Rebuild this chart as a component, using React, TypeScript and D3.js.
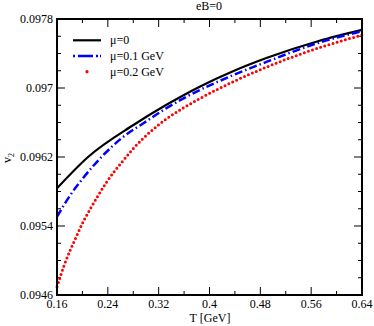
import React from 'react';
import * as d3 from 'd3';

// temperature [GeV] and v2, one pair of arrays per chemical potential
const tMu0 = [0.16, 0.2093, 0.2803, 0.3329, 0.3854, 0.4379, 0.4906, 0.5719, 0.64];
const v2Mu0 = [0.095837, 0.096203, 0.096571, 0.096808, 0.097018, 0.097197, 0.09735, 0.097545, 0.097674];

const tMu01 = [0.16, 0.181, 0.2021, 0.233, 0.2645, 0.296, 0.3276, 0.3591, 0.4379, 0.4906, 0.5719, 0.64];
const v2Mu01 = [0.095508, 0.095759, 0.095965, 0.096223, 0.096435, 0.096591, 0.096745, 0.09688, 0.097151, 0.097305, 0.097525, 0.097658];

const tMu02 = [0.16, 0.1715, 0.19, 0.2021, 0.2141, 0.2257, 0.2377, 0.2494, 0.2609, 0.2803, 0.3066, 0.3329, 0.3591, 0.3854, 0.4379, 0.4906, 0.5719, 0.64];
const v2Mu02 = [0.094696, 0.094948, 0.09527, 0.095461, 0.09562, 0.095765, 0.095905, 0.096024, 0.09613, 0.0963, 0.09649, 0.096645, 0.09677, 0.09688, 0.097075, 0.097245, 0.097465, 0.097614];

const xTicks = [0.16, 0.24, 0.32, 0.4, 0.48, 0.56, 0.64];
const yTicks = [0.0946, 0.0954, 0.0962, 0.097, 0.0978];
const legendLabels = ['μ=0', 'μ=0.1 GeV', 'μ=0.2 GeV'];

const W = 374, H = 326;
const margin = { top: 19, right: 12, bottom: 31, left: 57 };
const font = '"Liberation Serif", "DejaVu Serif", serif';

export default function App() {
  const x = d3.scaleLinear().domain([0.16, 0.64]).range([margin.left, W - margin.right]);
  const y = d3.scaleLinear().domain([0.0946, 0.0978]).range([H - margin.bottom, margin.top]);

  const line = (ts: number[], vs: number[]) =>
    d3.line<number>()
      .x((_, i) => x(ts[i]))
      .y(d => y(d))
      .curve(d3.curveMonotoneX)(vs) || '';

  const xMinor = d3.range(0.16, 0.6401, 0.04);
  const yMinor = d3.range(0.0946, 0.09781, 0.0002);
  const [x0, x1] = x.range();
  const [y0, y1] = y.range();

  const series = [
    { d: line(tMu0, v2Mu0), stroke: '#000', width: 2.2, dash: undefined as string | undefined, cap: 'butt' },
    { d: line(tMu01, v2Mu01), stroke: '#0000ff', width: 2.5, dash: '8 3 1.5 3', cap: 'butt' },
    { d: line(tMu02, v2Mu02), stroke: '#ff0000', width: 3, dash: '0 4.3', cap: 'round' },
  ];

  return (
    <svg width={W} height={H} style={{ position: 'absolute', left: 0, top: 0 }} fontFamily={font}>
      <rect width={W} height={H} fill="#fff" />
      <text x={209} y={10} fontSize={12} textAnchor="middle">eB=0</text>

      {/* ticks point inward on all four sides */}
      {xMinor.map((t, i) => {
        const len = i % 2 === 0 ? 8 : 4;
        return (
          <g key={'xt' + i} stroke="#000" strokeWidth={1}>
            <line x1={x(t)} x2={x(t)} y1={y0} y2={y0 - len} />
            <line x1={x(t)} x2={x(t)} y1={y1} y2={y1 + len} />
          </g>
        );
      })}
      {yMinor.map((v, i) => {
        const len = i % 4 === 0 ? 8 : 4;
        return (
          <g key={'yt' + i} stroke="#000" strokeWidth={1}>
            <line x1={x0} x2={x0 + len} y1={y(v)} y2={y(v)} />
            <line x1={x1} x2={x1 - len} y1={y(v)} y2={y(v)} />
          </g>
        );
      })}

      {xTicks.map(t => (
        <text key={'xl' + t} x={x(t)} y={y0 + 13} fontSize={12} textAnchor="middle">{String(t)}</text>
      ))}
      {yTicks.map(v => (
        <text key={'yl' + v} x={x0 - 4} y={y(v) + 3.5} fontSize={12} textAnchor="end">{String(v)}</text>
      ))}

      <text x={210} y={322} fontSize={12} textAnchor="middle">T [GeV]</text>
      <text transform="translate(11,158) rotate(-90)" fontSize={12} textAnchor="middle">
        v<tspan fontSize={8} dy={3}>2</tspan>
      </text>

      <g fill="none">
        {series.map((s, i) => (
          <path key={i} d={s.d} stroke={s.stroke} strokeWidth={s.width} strokeDasharray={s.dash} strokeLinecap={s.cap as any} />
        ))}
      </g>

      {/* legend */}
      {series.map((s, i) => {
        const ly = 40.3 + i * 15.7;
        return (
          <g key={'lg' + i}>
            {i === 2 ? (
              <circle cx={87} cy={ly} r={1.6} fill={s.stroke} />
            ) : (
              <line x1={73} x2={101} y1={ly} y2={ly} stroke={s.stroke} strokeWidth={s.width}
                strokeDasharray={i === 1 ? '2 3 15 3 2' : undefined} />
            )}
            <text x={110} y={ly + 4} fontSize={12}>{legendLabels[i]}</text>
          </g>
        );
      })}

      <rect x={x0} y={y1} width={x1 - x0} height={y0 - y1} fill="none" stroke="#000" strokeWidth={2} />
    </svg>
  );
}
